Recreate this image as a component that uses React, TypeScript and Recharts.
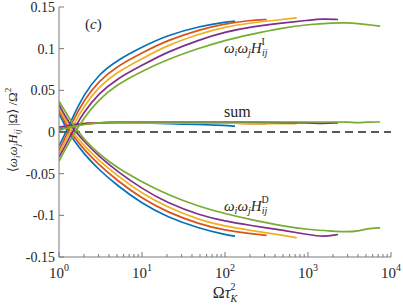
import React from 'react';
import {LineChart, Line, XAxis, YAxis, ReferenceLine} from 'recharts';

// MATLAB default colour order
const colors = ['#0072BD', '#D95319', '#EDB120', '#7E2F8E', '#77AC30'];

const xMajor = [1, 10, 100, 1000, 10000];
const xMajorExp = ['0', '1', '2', '3', '4'];
const xMinor = [2, 3, 4, 5, 6, 7, 8, 9, 20, 30, 40, 50, 60, 70, 80, 90, 200, 300, 400, 500, 600, 700, 800, 900, 2000, 3000, 4000, 5000, 6000, 7000, 8000, 9000];
const yTicks = [-0.15, -0.1, -0.05, 0, 0.05, 0.1, 0.15];
const yTickLabels = ['-0.15', '-0.1', '-0.05', '0', '0.05', '0.1', '0.15'];

// blue
const blueX = [1, 1.2, 1.5, 2, 3, 5, 10, 20, 50, 100, 132];
const blueI = [-0.017, -0.001, 0.020, 0.045, 0.069, 0.086, 0.102, 0.116, 0.127, 0.132, 0.133];
const blueD = [0.022, 0.006, -0.010, -0.026, -0.045, -0.064, -0.086, -0.102, -0.116, -0.123, -0.125];
const blueSum = [0.004, 0.006, 0.008, 0.010, 0.011, 0.011, 0.011, 0.010, 0.009, 0.008, 0.007];

// orange
const orangeX = [1, 1.2, 1.5, 2, 3, 5, 10, 20, 50, 100, 200, 318];
const orangeI = [-0.022, -0.006, 0.015, 0.038, 0.061, 0.079, 0.095, 0.110, 0.123, 0.130, 0.134, 0.135];
const orangeD = [0.026, 0.010, -0.006, -0.021, -0.039, -0.058, -0.080, -0.096, -0.111, -0.118, -0.122, -0.124];
const orangeSum = [0.005, 0.007, 0.009, 0.010, 0.011, 0.011, 0.011, 0.011, 0.011, 0.011, 0.010, 0.010];

// yellow
const yellowX = [1, 1.2, 1.5, 2, 3, 5, 10, 20, 50, 100, 200, 500, 730];
const yellowI = [-0.026, -0.011, 0.009, 0.031, 0.054, 0.072, 0.088, 0.104, 0.118, 0.126, 0.131, 0.135, 0.137];
const yellowD = [0.029, 0.014, -0.002, -0.016, -0.034, -0.052, -0.074, -0.090, -0.106, -0.113, -0.118, -0.124, -0.127];
const yellowSum = [0.005, 0.007, 0.009, 0.010, 0.011, 0.011, 0.011, 0.011, 0.011, 0.011, 0.010, 0.010, 0.010];

// purple
const purpleX = [1, 1.2, 1.5, 2, 3, 5, 10, 20, 50, 100, 200, 500, 1000, 1500, 2300];
const purpleI = [-0.030, -0.016, 0.003, 0.024, 0.046, 0.064, 0.080, 0.096, 0.111, 0.120, 0.126, 0.131, 0.134, 0.136, 0.135];
const purpleD = [0.033, 0.018, 0.003, -0.011, -0.029, -0.047, -0.068, -0.085, -0.100, -0.107, -0.112, -0.118, -0.123, -0.126, -0.123];
const purpleSum = [0.006, 0.007, 0.009, 0.010, 0.011, 0.012, 0.012, 0.012, 0.012, 0.012, 0.012, 0.011, 0.011, 0.010, 0.011];

// green
const greenX = [1, 1.2, 1.5, 2, 3, 5, 10, 20, 50, 100, 200, 500, 1000, 2000, 3000, 4000, 5100, 7400];
const greenI = [-0.035, -0.020, -0.003, 0.017, 0.039, 0.057, 0.073, 0.087, 0.101, 0.110, 0.117, 0.125, 0.129, 0.131, 0.131, 0.130, 0.129, 0.127];
const greenD = [0.037, 0.024, 0.008, -0.009, -0.026, -0.043, -0.060, -0.075, -0.090, -0.098, -0.105, -0.113, -0.117, -0.119, -0.120, -0.119, -0.116, -0.115];
const greenSum = [0.002, 0.004, 0.007, 0.009, 0.011, 0.012, 0.012, 0.012, 0.012, 0.012, 0.012, 0.012, 0.012, 0.012, 0.012, 0.011, 0.012, 0.012];

const groups = [
  {x: blueX, i: blueI, d: blueD, s: blueSum},
  {x: orangeX, i: orangeI, d: orangeD, s: orangeSum},
  {x: yellowX, i: yellowI, d: yellowD, s: yellowSum},
  {x: purpleX, i: purpleI, d: purpleD, s: purpleSum},
  {x: greenX, i: greenI, d: greenD, s: greenSum},
];

const toPoints = (xs: number[], ys: number[]) => xs.map((x, k) => ({x, y: ys[k]}));

const axisColor = '#7a7a7a';
const textColor = '#262626';
const serif = "'Liberation Serif', 'Times New Roman', 'DejaVu Serif', serif";
const serifStyle = {fontFamily: serif};

const isMajor = (v: number) => xMajor.some(m => Math.abs(m - v) < 1e-6);

const XTickBottom = (props: any) => {
  const {x, y, payload} = props;
  const v = payload.value;
  const major = isMajor(v);
  const idx = xMajor.findIndex(m => Math.abs(m - v) < 1e-6);
  return (
    <g>
      <line x1={x} x2={x} y1={y} y2={y - (major ? 5 : 3)} stroke={axisColor} strokeWidth={1} />
      {major && (
        <text x={x} y={y + 21} textAnchor="middle" style={serifStyle} fontSize={15} fill={textColor}>
          <tspan>10</tspan>
          <tspan dy={-7} fontSize={10}>{xMajorExp[idx]}</tspan>
        </text>
      )}
    </g>
  );
};

const XTickTop = (props: any) => {
  const {x, y, payload} = props;
  const major = isMajor(payload.value);
  return <line x1={x} x2={x} y1={y} y2={y + (major ? 5 : 3)} stroke={axisColor} strokeWidth={1} />;
};

const YTickLeft = (props: any) => {
  const {x, y, payload} = props;
  const idx = yTicks.findIndex(t => Math.abs(t - payload.value) < 1e-9);
  return (
    <g>
      <line x1={x} x2={x + 5} y1={y} y2={y} stroke={axisColor} strokeWidth={1} />
      <text x={x - 4} y={y} dy={5} textAnchor="end" style={serifStyle} fontSize={14} fill={textColor}>
        {yTickLabels[idx]}
      </text>
    </g>
  );
};

const YTickRight = (props: any) => {
  const {x, y} = props;
  return <line x1={x} x2={x - 5} y1={y} y2={y} stroke={axisColor} strokeWidth={1} />;
};

export default function App() {
  const ticksX = [...xMajor, ...xMinor].sort((a, b) => a - b);
  return (
    <div style={{position: 'absolute', left: 0, top: 0, width: 403, height: 305, background: '#fff'}}>
      <LineChart width={403} height={305} margin={{top: 7, right: 12, bottom: 0, left: 0}}>
        <XAxis
          dataKey="x"
          type="number"
          scale="log"
          domain={[1, 10000]}
          allowDataOverflow
          ticks={ticksX}
          interval={0}
          height={48}
          tickSize={0}
          tickMargin={0}
          tickLine={false}
          tick={<XTickBottom />}
          axisLine={{stroke: axisColor}}
        />
        <XAxis
          xAxisId="top"
          orientation="top"
          dataKey="x"
          type="number"
          scale="log"
          domain={[1, 10000]}
          allowDataOverflow
          ticks={ticksX}
          interval={0}
          height={0}
          tickSize={0}
          tickMargin={0}
          tickLine={false}
          tick={<XTickTop />}
          axisLine={{stroke: axisColor}}
        />
        <YAxis
          type="number"
          domain={[-0.15, 0.15]}
          allowDataOverflow
          ticks={yTicks}
          interval={0}
          width={59}
          tickSize={0}
          tickMargin={0}
          tickLine={false}
          tick={<YTickLeft />}
          axisLine={{stroke: axisColor}}
        />
        <YAxis
          yAxisId="right"
          orientation="right"
          type="number"
          domain={[-0.15, 0.15]}
          allowDataOverflow
          ticks={yTicks}
          interval={0}
          width={0}
          tickSize={0}
          tickMargin={0}
          tickLine={false}
          tick={<YTickRight />}
          axisLine={{stroke: axisColor}}
        />
        <ReferenceLine y={0} stroke="#222" strokeWidth={1.3} strokeDasharray="8 5" />
        {groups.map((g, k) => [
          <Line key={`i-${k}`} data={toPoints(g.x, g.i)} dataKey="y" type="basis" stroke={colors[k]} strokeWidth={1.7} dot={false} isAnimationActive={false} />,
          <Line key={`d-${k}`} data={toPoints(g.x, g.d)} dataKey="y" type="basis" stroke={colors[k]} strokeWidth={1.7} dot={false} isAnimationActive={false} />,
          <Line key={`s-${k}`} data={toPoints(g.x, g.s)} dataKey="y" type="basis" stroke={colors[k]} strokeWidth={1.7} dot={false} isAnimationActive={false} />,
        ])}
      </LineChart>
      <svg width={403} height={305} style={{position: 'absolute', left: 0, top: 0, pointerEvents: 'none'}}>
        <g style={serifStyle} fill={textColor}>
          <text x={85} y={29} fontSize={15}>
            <tspan>(</tspan><tspan fontStyle="italic">c</tspan><tspan>)</tspan>
          </text>
          <text x={224} y={53} fontSize={15}>
            <tspan fontStyle="italic">ω</tspan>
            <tspan fontStyle="italic" fontSize={10} dy={3}>i</tspan>
            <tspan fontStyle="italic" dy={-3}>ω</tspan>
            <tspan fontStyle="italic" fontSize={10} dy={3}>j</tspan>
            <tspan fontStyle="italic" dy={-3}>H</tspan>
            <tspan fontSize={10} dy={-8}>I</tspan>
            <tspan fontStyle="italic" fontSize={10} dx={-3} dy={11}>ij</tspan>
          </text>
          <text x={224} y={117} fontSize={16}>sum</text>
          <text x={224} y={211} fontSize={15}>
            <tspan fontStyle="italic">ω</tspan>
            <tspan fontStyle="italic" fontSize={10} dy={3}>i</tspan>
            <tspan fontStyle="italic" dy={-3}>ω</tspan>
            <tspan fontStyle="italic" fontSize={10} dy={3}>j</tspan>
            <tspan fontStyle="italic" dy={-3}>H</tspan>
            <tspan fontSize={10} dy={-8}>D</tspan>
            <tspan fontStyle="italic" fontSize={10} dx={-7} dy={11}>ij</tspan>
          </text>
          <text x={225} y={298} textAnchor="middle" fontSize={16}>
            <tspan>Ω</tspan>
            <tspan fontStyle="italic">τ</tspan>
            <tspan fontSize={10} dy={-8}>2</tspan>
            <tspan fontStyle="italic" fontSize={10} dx={-5} dy={12}>K</tspan>
          </text>
          <text transform="translate(17,130) rotate(-90)" textAnchor="middle" fontSize={13}>
            <tspan>⟨</tspan>
            <tspan fontStyle="italic">ω</tspan>
            <tspan fontStyle="italic" fontSize={9} dy={3}>i</tspan>
            <tspan fontStyle="italic" dy={-3}>ω</tspan>
            <tspan fontStyle="italic" fontSize={9} dy={3}>j</tspan>
            <tspan fontStyle="italic" dy={-3}>H</tspan>
            <tspan fontStyle="italic" fontSize={9} dy={3}>ij</tspan>
            <tspan dy={-3}> |Ω⟩ /Ω</tspan>
            <tspan fontSize={9} dy={-6}>2</tspan>
          </text>
        </g>
      </svg>
    </div>
  );
}
